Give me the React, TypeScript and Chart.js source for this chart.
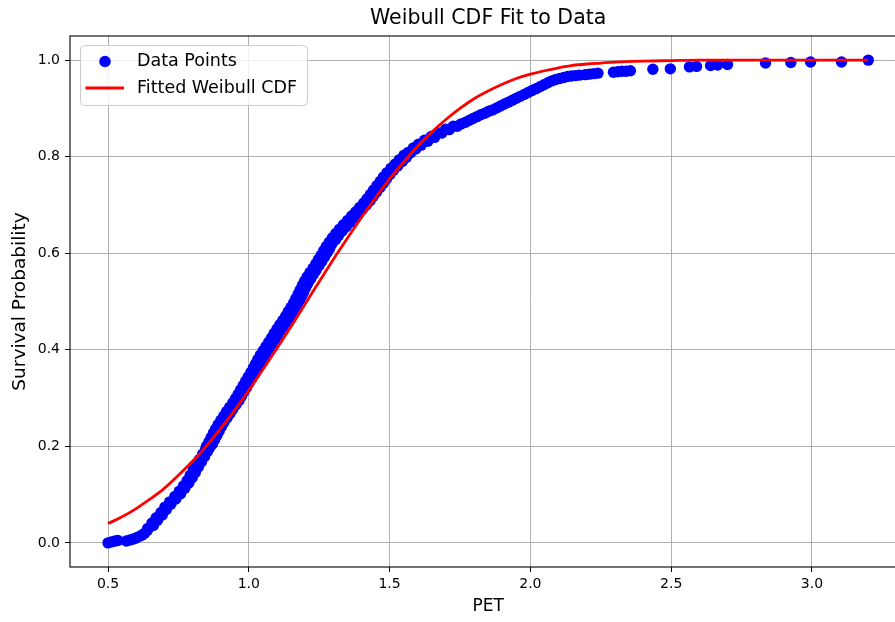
import { useEffect, useRef } from "react";
import { Chart, registerables } from "chart.js";

Chart.register(...registerables);

// Observed PET values and empirical survival probability, split by stretch of the curve
const petStart = [0.5, 0.512, 0.525, 0.535, 0.565, 0.578, 0.59, 0.6, 0.61, 0.62, 0.63, 0.64];
const survStart = [0.0, 0.002, 0.004, 0.005, 0.004, 0.006, 0.008, 0.01, 0.013, 0.016, 0.02, 0.026];

const petLow = [
  0.641, 0.661, 0.656, 0.676, 0.671, 0.693, 0.688, 0.707, 0.702, 0.723,
  0.719, 0.741, 0.737, 0.758, 0.753, 0.773, 0.768, 0.787, 0.781, 0.799,
  0.792, 0.81, 0.803, 0.821, 0.814, 0.832, 0.825, 0.843, 0.836, 0.854,
  0.847, 0.862,
];
const survLow = [
  0.03, 0.036, 0.041, 0.047, 0.052, 0.058, 0.063, 0.069, 0.074, 0.08,
  0.085, 0.091, 0.096, 0.102, 0.107, 0.113, 0.118, 0.124, 0.129, 0.135,
  0.14, 0.146, 0.151, 0.157, 0.162, 0.168, 0.173, 0.179, 0.184, 0.19,
  0.195, 0.198,
];

const petMid = [
  0.85, 0.871, 0.858, 0.879, 0.866, 0.887, 0.874, 0.895, 0.882, 0.903,
  0.891, 0.912, 0.901, 0.923, 0.911, 0.933, 0.921, 0.943, 0.932, 0.954,
  0.943, 0.965, 0.953, 0.974, 0.962, 0.983, 0.971, 0.992, 0.98, 1.001,
  0.989, 1.01, 0.998, 1.019, 1.007, 1.028, 1.016, 1.036, 1.024, 1.044,
  1.032, 1.053, 1.041, 1.062, 1.051, 1.072, 1.061, 1.082, 1.071, 1.092,
  1.081, 1.102, 1.09, 1.111, 1.1, 1.122, 1.11, 1.132, 1.121, 1.143,
  1.131, 1.152, 1.14, 1.161, 1.15, 1.171, 1.159, 1.18, 1.167, 1.188,
  1.175, 1.195, 1.182, 1.202, 1.19, 1.21, 1.198, 1.22, 1.207, 1.229,
  1.217, 1.239, 1.228, 1.249, 1.238, 1.259, 1.247, 1.269, 1.257, 1.278,
  1.266, 1.287, 1.275, 1.295, 1.286, 1.308, 1.297, 1.319, 1.309, 1.332,
  1.322, 1.346, 1.336, 1.36, 1.351, 1.375, 1.365, 1.389, 1.38, 1.404,
  1.394, 1.418, 1.408, 1.431, 1.42, 1.442, 1.432, 1.454, 1.443, 1.466,
  1.455, 1.478, 1.467, 1.489, 1.478, 1.501, 1.491, 1.514, 1.505, 1.529,
  1.52, 1.545, 1.535, 1.56, 1.551,
];
const survMid = [
  0.2, 0.205, 0.209, 0.214, 0.218, 0.223, 0.227, 0.232, 0.236, 0.241,
  0.245, 0.25, 0.254, 0.259, 0.263, 0.268, 0.272, 0.277, 0.281, 0.286,
  0.29, 0.295, 0.299, 0.304, 0.308, 0.313, 0.317, 0.322, 0.326, 0.331,
  0.335, 0.34, 0.344, 0.349, 0.353, 0.358, 0.362, 0.367, 0.371, 0.376,
  0.38, 0.385, 0.389, 0.394, 0.398, 0.403, 0.407, 0.412, 0.416, 0.421,
  0.425, 0.43, 0.434, 0.439, 0.443, 0.448, 0.452, 0.457, 0.461, 0.466,
  0.47, 0.475, 0.479, 0.484, 0.488, 0.493, 0.497, 0.502, 0.506, 0.511,
  0.515, 0.52, 0.524, 0.529, 0.533, 0.538, 0.542, 0.547, 0.551, 0.556,
  0.56, 0.565, 0.569, 0.574, 0.578, 0.583, 0.587, 0.592, 0.596, 0.601,
  0.605, 0.61, 0.614, 0.619, 0.623, 0.628, 0.632, 0.637, 0.641, 0.646,
  0.65, 0.655, 0.659, 0.664, 0.668, 0.673, 0.677, 0.682, 0.686, 0.691,
  0.695, 0.7, 0.704, 0.709, 0.713, 0.718, 0.722, 0.727, 0.731, 0.736,
  0.74, 0.745, 0.749, 0.754, 0.758, 0.763, 0.767, 0.772, 0.776, 0.781,
  0.785, 0.79, 0.794, 0.799, 0.803,
];

const petHigh = [
  1.566, 1.575, 1.584, 1.593, 1.603, 1.612, 1.624, 1.636, 1.648, 1.66,
  1.673, 1.686, 1.699, 1.712, 1.726, 1.74, 1.754, 1.768, 1.782, 1.796,
  1.81, 1.824, 1.838, 1.852, 1.866, 1.88, 1.894, 1.908, 1.922, 1.936,
  1.95, 1.964, 1.978, 1.992, 2.006, 2.02, 2.034, 2.048, 2.062, 2.076,
  2.09, 2.104, 2.118, 2.132, 2.146, 2.16, 2.174, 2.195, 2.21, 2.225,
  2.24, 2.295, 2.31, 2.325, 2.34, 2.355, 2.435, 2.497, 2.565, 2.59,
  2.64, 2.665, 2.7, 2.835, 2.925, 2.995, 3.105, 3.2,
];
const survHigh = [
  0.809, 0.808, 0.818, 0.816, 0.826, 0.824, 0.834, 0.832, 0.842, 0.84,
  0.849, 0.849, 0.857, 0.856, 0.863, 0.863, 0.868, 0.871, 0.875, 0.879,
  0.883, 0.887, 0.89, 0.894, 0.897, 0.901, 0.905, 0.909, 0.913, 0.917,
  0.921, 0.925, 0.929, 0.933, 0.937, 0.941, 0.945, 0.949, 0.953, 0.957,
  0.96, 0.962, 0.964, 0.966, 0.967, 0.968, 0.969, 0.97, 0.971, 0.972,
  0.973, 0.975, 0.976, 0.977, 0.977, 0.978, 0.981, 0.982, 0.986, 0.987,
  0.989, 0.99, 0.991, 0.994, 0.995, 0.996, 0.996, 1.0,
];

// Fitted Weibull CDF sampled along PET
const fitPet = [
  0.5, 0.55, 0.6, 0.65, 0.7, 0.75, 0.8, 0.85, 0.9, 0.95,
  1.0, 1.05, 1.1, 1.15, 1.2, 1.25, 1.3, 1.35, 1.4, 1.45,
  1.5, 1.55, 1.6, 1.65, 1.7, 1.75, 1.8, 1.85, 1.9, 1.95,
  2.0, 2.05, 2.1, 2.15, 2.2, 2.25, 2.3, 2.4, 2.5, 2.6,
  2.8, 3.0, 3.2,
];
const fitCdf = [
  0.04, 0.054, 0.071, 0.091, 0.113, 0.14, 0.169, 0.201, 0.237, 0.275,
  0.316, 0.359, 0.403, 0.448, 0.495, 0.541, 0.587, 0.631, 0.674, 0.715,
  0.754, 0.789, 0.822, 0.851, 0.877, 0.9, 0.92, 0.936, 0.95, 0.962,
  0.971, 0.978, 0.984, 0.989, 0.992, 0.994, 0.996, 0.998, 0.999, 1.0,
  1.0, 1.0, 1.0,
];

const xTickValues = [0.5, 1.0, 1.5, 2.0, 2.5, 3.0];
const yTickValues = [0.0, 0.2, 0.4, 0.6, 0.8, 1.0];

const titleText = "Weibull CDF Fit to Data";
const xLabel = "PET";
const yLabel = "Survival Probability";
const scatterLabel = "Data Points";
const fitLabel = "Fitted Weibull CDF";

const FONT = "'DejaVu Sans', 'Liberation Sans', sans-serif";
const POINT_BLUE = "#0000ff";
const FIT_RED = "#ff0000";

// Black frame around the plotting area, drawn above the data
const framePlugin = {
  id: "axesFrame",
  afterDatasetsDraw(chart: any) {
    const { ctx, chartArea: a } = chart;
    ctx.save();
    ctx.strokeStyle = "#000";
    ctx.lineWidth = 1.1;
    ctx.strokeRect(a.left, a.top, a.right - a.left, a.bottom - a.top);
    ctx.restore();
  },
};

// Legend box in the upper-left corner of the plotting area
const legendPlugin = {
  id: "cornerLegend",
  afterDraw(chart: any) {
    const { ctx, chartArea: a } = chart;
    const x0 = a.left + 10.5;
    const y0 = a.top + 9.5;
    const w = 227;
    const h = 60;
    ctx.save();
    ctx.beginPath();
    ctx.roundRect(x0, y0, w, h, 4);
    ctx.fillStyle = "rgba(255,255,255,0.8)";
    ctx.fill();
    ctx.strokeStyle = "#cccccc";
    ctx.lineWidth = 1;
    ctx.stroke();

    const row1 = y0 + 16;
    const row2 = y0 + 42.5;
    ctx.beginPath();
    ctx.arc(x0 + 24.5, row1, 5.8, 0, Math.PI * 2);
    ctx.fillStyle = POINT_BLUE;
    ctx.fill();

    ctx.beginPath();
    ctx.moveTo(x0 + 5, row2);
    ctx.lineTo(x0 + 43.5, row2);
    ctx.strokeStyle = FIT_RED;
    ctx.lineWidth = 2.8;
    ctx.stroke();

    ctx.fillStyle = "#000";
    ctx.font = `17.5px ${FONT}`;
    ctx.textBaseline = "middle";
    ctx.textAlign = "left";
    ctx.fillText(scatterLabel, x0 + 56.5, row1);
    ctx.fillText(fitLabel, x0 + 56.5, row2);
    ctx.restore();
  },
};

export default function App() {
  const canvasRef = useRef<HTMLCanvasElement | null>(null);

  useEffect(() => {
    const canvas = canvasRef.current;
    if (!canvas) return;

    const pets = [...petStart, ...petLow, ...petMid, ...petHigh];
    const survs = [...survStart, ...survLow, ...survMid, ...survHigh];
    const scatterData = pets.map((x, i) => ({ x, y: survs[i] }));
    const fitData = fitPet.map((x, i) => ({ x, y: fitCdf[i] }));

    const tickFont = { family: FONT, size: 14 };
    const gridStyle = {
      color: "#b0b0b0",
      lineWidth: 1,
      tickColor: "#000",
      tickLength: 5,
      drawTicks: true,
    };

    const chart = new Chart(canvas, {
      type: "scatter",
      data: {
        datasets: [
          {
            label: fitLabel,
            data: fitData,
            showLine: true,
            borderColor: FIT_RED,
            backgroundColor: FIT_RED,
            borderWidth: 2.8,
            pointRadius: 0,
            pointHoverRadius: 0,
            cubicInterpolationMode: "monotone",
            order: 0,
          } as any,
          {
            label: scatterLabel,
            data: scatterData,
            backgroundColor: POINT_BLUE,
            borderColor: POINT_BLUE,
            pointRadius: 5.7,
            pointBorderWidth: 0,
            order: 1,
          },
        ],
      },
      options: {
        responsive: false,
        animation: false,
        devicePixelRatio: 1,
        layout: { padding: { left: 0, right: 5, top: 0, bottom: 0 } },
        plugins: {
          legend: { display: false },
          tooltip: { enabled: false },
          title: {
            display: true,
            text: titleText,
            color: "#000",
            fullSize: false,
            font: { family: FONT, size: 20.5, weight: "normal" },
            padding: { top: 6, bottom: 5.4 },
          },
        },
        scales: {
          x: {
            type: "linear",
            min: 0.365,
            max: 3.335,
            afterBuildTicks: (s: any) => {
              s.ticks = xTickValues.map((v) => ({ value: v }));
            },
            afterFit: (s: any) => {
              s.height = 55;
            },
            ticks: {
              color: "#000",
              font: tickFont,
              padding: 4,
              maxRotation: 0,
              autoSkip: false,
              callback: (v: any) => Number(v).toFixed(1),
            },
            grid: gridStyle,
            border: { display: false },
            title: {
              display: true,
              text: xLabel,
              color: "#000",
              font: { family: FONT, size: 17 },
              padding: { top: 0, bottom: 4.8 },
            },
          },
          y: {
            type: "linear",
            min: -0.05,
            max: 1.05,
            afterBuildTicks: (s: any) => {
              s.ticks = yTickValues.map((v) => ({ value: v }));
            },
            afterFit: (s: any) => {
              s.width = 70;
            },
            ticks: {
              color: "#000",
              font: tickFont,
              padding: 5,
              autoSkip: false,
              callback: (v: any) => Number(v).toFixed(1),
            },
            grid: gridStyle,
            border: { display: false },
            title: {
              display: true,
              text: yLabel,
              color: "#000",
              font: { family: FONT, size: 18.5 },
              padding: { top: 9, bottom: 0 },
            },
          },
        },
      },
      plugins: [framePlugin, legendPlugin],
    });

    return () => chart.destroy();
  }, []);

  return (
    <div
      style={{
        position: "fixed",
        left: 0,
        top: 0,
        width: 895,
        height: 622,
        overflow: "hidden",
        background: "#fff",
      }}
    >
      <canvas
        ref={canvasRef}
        width={912}
        height={622}
        style={{ display: "block" }}
      />
    </div>
  );
}
